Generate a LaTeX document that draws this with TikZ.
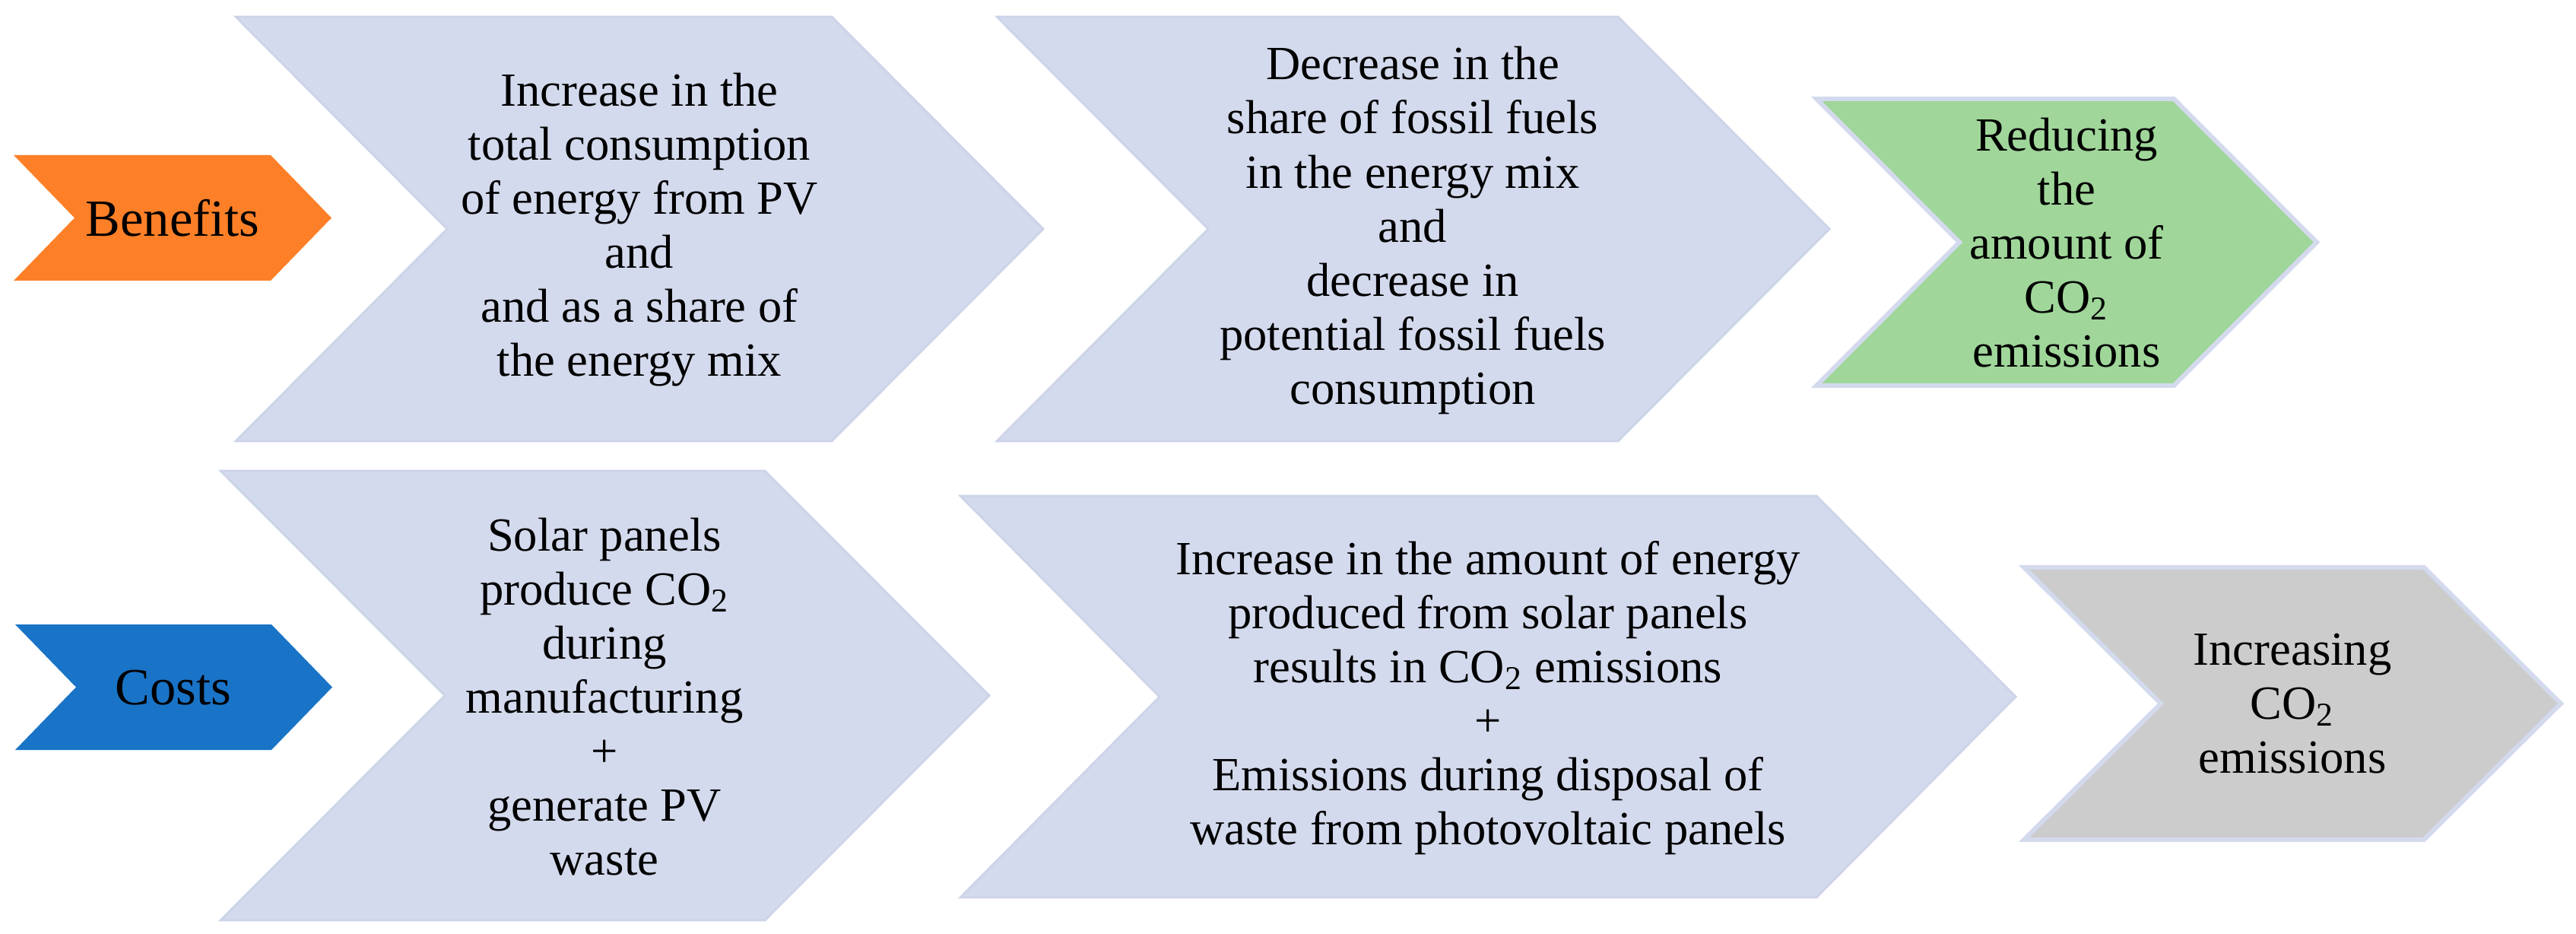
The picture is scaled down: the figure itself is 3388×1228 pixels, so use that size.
\documentclass[tikz,border=0pt]{standalone}
\usepackage{fontspec}
\setmainfont{Liberation Serif}
\definecolor{orangeB}{RGB}{253,128,40}
\definecolor{blueC}{RGB}{25,116,199}
\definecolor{chevfill}{RGB}{212,218,237}
\definecolor{chevedge}{RGB}{205,212,233}
\definecolor{greenR}{RGB}{160,214,154}
\definecolor{grayI}{RGB}{204,204,204}
\newcommand{\chevpath}[6]{%
  \path[#1] (#2,#4) -- ({#3-#6},#4) -- (#3,{(#4+#5)/2}) -- ({#3-#6},#5) -- (#2,#5) -- ({#2+#6},{(#4+#5)/2}) -- cycle;}
\tikzset{
  bigchev/.style={fill=chevfill, draw=chevedge, line width=0.8pt},
  endchev/.style={draw=chevfill, line width=1.7pt, line join=miter},
  lbl/.style={align=center, inner sep=0pt, font=\fontsize{17.8}{20.2}\selectfont},
  headlbl/.style={align=center, inner sep=0pt, font=\fontsize{19.5}{22}\selectfont},
}
\begin{document}
\begin{tikzpicture}[x=0.01cm,y=-0.01cm]
\useasboundingbox (0,0) rectangle (3388,1228);
% top row
\chevpath{fill=orangeB}{18}{436}{204}{369}{80}
\node[headlbl] (benefits) at (227,287) {Benefits};
\chevpath{bigchev}{310}{1372}{22}{580}{278}
\node[lbl] (inc) at (841,302) {Increase in the\\total consumption\\of energy from PV\\and\\and as a share of\\the energy mix};
\chevpath{bigchev}{1311}{2406}{22}{580}{278}
\node[lbl] (dec) at (1858,303) {Decrease in the\\share of fossil fuels\\in the energy mix\\and\\decrease in\\potential fossil fuels\\consumption};
\chevpath{endchev, fill=greenR}{2389}{3047}{130}{507}{188}
\node[lbl] (red) at (2718,319) {Reducing\\the\\amount of\\CO\textsubscript{2}\\emissions};
% bottom row
\chevpath{fill=blueC}{20}{437}{821}{986}{80}
\node[headlbl] (costs) at (228,904) {Costs};
\chevpath{bigchev}{290}{1301}{619}{1210}{295}
\node[lbl] (solar) at (795,916) {Solar panels\\produce CO\textsubscript{2}\\during\\manufacturing\\+\\generate PV\\waste};
\chevpath{bigchev}{1263}{2651}{652}{1180}{262}
\node[lbl] (incamt) at (1957,918) {Increase in the amount of energy\\produced from solar panels\\results in CO\textsubscript{2} emissions\\+\\Emissions during disposal of\\waste from photovoltaic panels};
\chevpath{endchev, fill=grayI}{2662}{3368}{746}{1104}{180}
\node[lbl] (incco) at (3015,925) {Increasing\\CO\textsubscript{2}\\emissions};
\end{tikzpicture}
\end{document}
